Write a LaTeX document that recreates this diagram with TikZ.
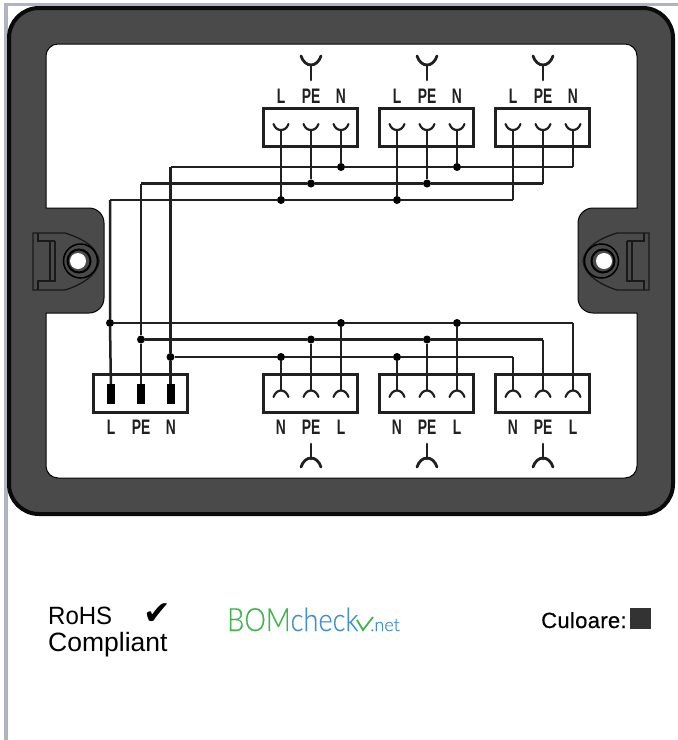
\documentclass[tikz,border=0pt]{standalone}
\usepackage{fontspec}
\usepackage{graphicx}
\setmainfont{Liberation Sans}
\newfontfamily\bomfont[FakeBold=0.35]{Lato Light}
\newfontfamily\symfont{DejaVu Sans}
\newfontfamily\medfont[FakeBold=0.5]{Liberation Sans}
\definecolor{housing}{HTML}{4A4A4A}
\definecolor{edge}{HTML}{0A0A0A}
\definecolor{wirec}{HTML}{202020}
\definecolor{frameg}{HTML}{B0B4BE}
\definecolor{bomgreen}{HTML}{3DB54A}
\definecolor{bomblue}{HTML}{3F8FCF}
\definecolor{swatch}{HTML}{333333}
\tikzset{
  x=1pt,y=-1pt,
  wire/.style={draw=wirec,line width=2.5pt},
  termbox/.style={draw=wirec,line width=2.4pt,fill=white,minimum width=94pt,minimum height=38pt,inner sep=0pt},
  junction/.style={circle,fill=black,inner sep=0pt,minimum size=8pt},
  contact/.style={fill=black,inner sep=0pt,minimum width=8pt,minimum height=20pt},
  pinlabel/.style={inner sep=0pt,text=wirec,text height=15pt,text depth=0pt,font=\fontsize{21}{21}\selectfont\bfseries},
  cup/.style={draw=wirec,line width=2.2pt,line cap=round},
  plug/.style={draw=wirec,line width=2.8pt,line cap=round},
  earline/.style={draw=black!90,line width=1.3pt},
  plaintext/.style={inner sep=0pt,anchor=base west},
}
\newcommand{\nl}[1]{\scalebox{0.66}[1]{#1}}
\begin{document}
\begin{tikzpicture}
\useasboundingbox (0,0) rectangle (678,740);
\fill[white] (0,0) rectangle (678,740);
% page frame
\fill[frameg] (4,3) rectangle (678,6);
\fill[frameg] (4,3) rectangle (8,740);
% housing
\draw[edge,fill=housing,line width=4pt,rounded corners=30pt] (9,8) rectangle (673,514);
\path[fill=white,draw=black,line width=1pt]
  [rounded corners=12pt] (46,126) -- (46,44) -- (637,44) -- (637,126)
  [sharp corners] -- (637,208) -- (610,208)
  [rounded corners=15pt] -- (578,208) -- (578,313)
  [sharp corners] -- (610,313) -- (637,313) -- (637,400)
  [rounded corners=12pt] -- (637,478) -- (46,478) -- (46,400)
  [sharp corners] -- (46,313) -- (72,313)
  [rounded corners=15pt] -- (104,313) -- (104,208)
  [sharp corners] -- (72,208) -- (46,208) -- cycle;
% mounting ears
\foreach \s/\o in {1/0,-1/682}{
  \begin{scope}[xshift=\o pt,xscale=\s]
    \draw[earline] (33,233) -- (65,233) .. controls (78,237) and (97,245) .. (99,261)
      .. controls (97,277) and (78,286) .. (65,290) -- (33,290) -- cycle;
    \draw[earline] (38,233) -- (38,241) -- (50,241) -- (50,281) -- (38,281) -- (38,290);
    \draw[earline] (55,241) -- (55,281) -- (50,281);
    \draw[earline] (50,241) -- (55,241);
    \draw[black,line width=1.5pt] (80.5,261) circle (17);
    \draw[black,line width=2pt] (79,261) circle (11.5);
    \fill[white] (78,261) circle (8);
  \end{scope}
}
% terminal boxes
\node[termbox] (tb1) at (310.5,127.5) {};
\node[termbox] (tb2) at (426.5,127.5) {};
\node[termbox] (tb3) at (542.5,127.5) {};
\node[termbox] (bb0) at (140.5,393.5) {};
\node[termbox] (bb1) at (310.5,393.5) {};
\node[termbox] (bb2) at (426.5,393.5) {};
\node[termbox] (bb3) at (542.5,393.5) {};
% corner and pin coordinates
\coordinate (cornL) at (110,200);
\coordinate (cornPE) at (141,183.5);
\coordinate (cornN) at (170.5,167);
\coordinate (endTL) at (513,200);
\coordinate (endTPE) at (543,183.5);
\coordinate (endTN) at (573,167);
\coordinate (endBN) at (513,357);
\coordinate (endBPE) at (543,339.5);
\coordinate (endBL) at (573,323);
% junctions
\foreach \n/\x/\y in {tL1/281/200,tPE1/311/183.5,tN1/341/167,tL2/397/200,tPE2/427/183.5,tN2/457/167,
  sL/110/323,sPE/141/339.5,sN/170.5/357,
  bN1/281/357,bPE1/311/339.5,bL1/341/323,bN2/397/357,bPE2/427/339.5,bL2/457/323}{
  \node[junction] (\n) at (\x,\y) {};
}
% contacts in the source box
\node[contact] (cL) at (111,394) {};
\node[contact] (cPE) at (141,394) {};
\node[contact] (cN) at (170.5,394) {};
% buses
\draw[wire] (cornL) -- (tL1) -- (tL2) -- (endTL);
\draw[wire] (cornPE) -- (tPE1) -- (tPE2) -- (endTPE);
\draw[wire] (cornN) -- (tN1) -- (tN2) -- (endTN);
\draw[wire] (sL) -- (bL1) -- (bL2) -- (endBL);
\draw[wire] (sPE) -- (bPE1) -- (bPE2) -- (endBPE);
\draw[wire] (sN) -- (bN1) -- (bN2) -- (endBN);
% feeds to the source box
\draw[wire] (cornL) -- (sL) -- (cL);
\draw[wire] (cornPE) -- (sPE) -- (cPE);
\draw[wire] (cornN) -- (sN) -- (cN);
% top pins
\foreach \p/\x/\e in {tL1/281/tL1,tPE1/311/tPE1,tN1/341/tN1,tL2/397/tL2,tPE2/427/tPE2,tN2/457/tN2,tL3/513/endTL,tPE3/543/endTPE,tN3/573/endTN}{
  \coordinate (p\p) at (\x,130);
  \draw[wire] (p\p) -- (\e);
  \draw[cup] (\x-7.5,124) .. controls (\x-6,128) and (\x-3.5,130) .. (p\p) .. controls (\x+3.5,130) and (\x+6,128) .. (\x+7.5,124);
}
% bottom pins
\foreach \p/\x/\e in {bN1/281/bN1,bPE1/311/bPE1,bL1/341/bL1,bN2/397/bN2,bPE2/427/bPE2,bL2/457/bL2,bN3/513/endBN,bPE3/543/endBPE,bL3/573/endBL}{
  \coordinate (p\p) at (\x,390.5);
  \draw[wire] (\e) -- (p\p);
  \draw[cup] (\x-7.5,397) .. controls (\x-6,393) and (\x-3.5,390.5) .. (p\p) .. controls (\x+3.5,390.5) and (\x+6,393) .. (\x+7.5,397);
}
% plug symbols
\foreach \x in {311,427,543}{
  \draw[plug] (\x,80) -- (\x,65);
  \draw[plug] (\x-10,56) .. controls (\x-8,62) and (\x-4,65) .. (\x,65) .. controls (\x+4,65) and (\x+8,62) .. (\x+10,56);
  \draw[plug] (\x,444) -- (\x,459);
  \draw[plug] (\x-10,467) .. controls (\x-8,461) and (\x-4,458) .. (\x,458) .. controls (\x+4,458) and (\x+8,461) .. (\x+10,467);
}
% pin labels
\foreach \i/\o in {1/0,2/116,3/232}{
  \node[pinlabel] (lt\i L) at (281+\o,95.5) {\nl{L}};
  \node[pinlabel] (lt\i PE) at (311+\o,95.5) {\nl{PE}};
  \node[pinlabel] (lt\i N) at (341+\o,95.5) {\nl{N}};
  \node[pinlabel] (lb\i N) at (281+\o,426.5) {\nl{N}};
  \node[pinlabel] (lb\i PE) at (311+\o,426.5) {\nl{PE}};
  \node[pinlabel] (lb\i L) at (341+\o,426.5) {\nl{L}};
}
\node[pinlabel] (ls L) at (111,426.5) {\nl{L}};
\node[pinlabel] (ls PE) at (141,426.5) {\nl{PE}};
\node[pinlabel] (ls N) at (171,426.5) {\nl{N}};
% footer
\node[plaintext] (rohs) at (48,624) {\fontsize{25}{25}\selectfont\scalebox{0.96}[1]{RoHS}};
\node[plaintext] (compl) at (48,651) {\fontsize{26.5}{26.5}\selectfont Compliant};
\node[inner sep=0pt] (tick) at (157.5,614) {\symfont\fontsize{33}{33}\selectfont ✔};
\node[plaintext] (bom) at (227,631) {\bomfont\fontsize{32}{32}\selectfont\scalebox{0.85}[1]{\color{bomgreen}BOM\color{bomblue}check}};
\node[plaintext] (bomnet) at (370,631) {\bomfont\fontsize{18}{18}\selectfont\color{bomblue}.net};
\draw[bomgreen,line width=1.8pt] (357,620) -- (363,630) -- (373,617);
\node[plaintext] (cul) at (541,628) {\medfont\fontsize{22}{22}\selectfont\addfontfeature{LetterSpace=1.5}Culoare:};
\node[fill=swatch,inner sep=0pt,minimum width=21pt,minimum height=21pt] (sw) at (640.5,618.5) {};
\end{tikzpicture}
\end{document}
